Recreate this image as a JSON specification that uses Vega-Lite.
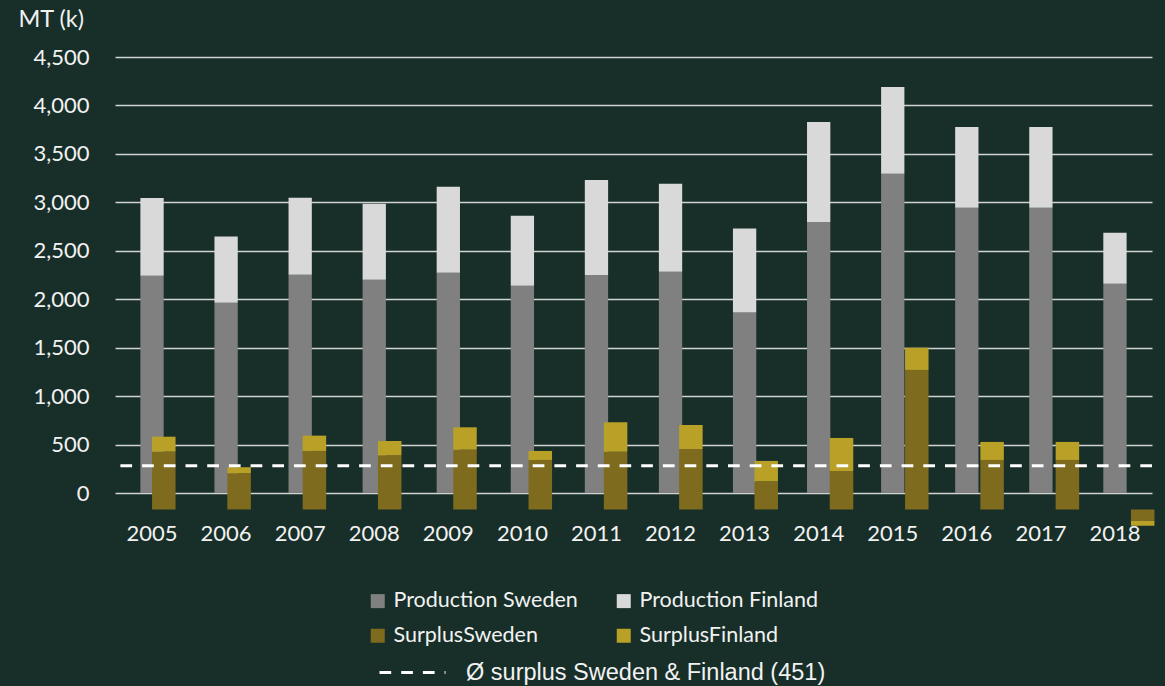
{
  "$schema": "https://vega.github.io/schema/vega-lite/v6.json",
  "width": 1037,
  "height": 436,
  "autosize": {"type": "none"},
  "padding": {"left": 115, "top": 57, "right": 13, "bottom": 193},
  "background": "#182f29",
  "config": {"view": {"stroke": null}, "font": "Lato"},
  "datasets": {
    "production": [
      {"year": "2005", "series": "Production Sweden", "value": 2243},
      {"year": "2005", "series": "Production Finland", "value": 802},
      {"year": "2006", "series": "Production Sweden", "value": 1964},
      {"year": "2006", "series": "Production Finland", "value": 684},
      {"year": "2007", "series": "Production Sweden", "value": 2253},
      {"year": "2007", "series": "Production Finland", "value": 795},
      {"year": "2008", "series": "Production Sweden", "value": 2202},
      {"year": "2008", "series": "Production Finland", "value": 784},
      {"year": "2009", "series": "Production Sweden", "value": 2274},
      {"year": "2009", "series": "Production Finland", "value": 887},
      {"year": "2010", "series": "Production Sweden", "value": 2140},
      {"year": "2010", "series": "Production Finland", "value": 722},
      {"year": "2011", "series": "Production Sweden", "value": 2250},
      {"year": "2011", "series": "Production Finland", "value": 980},
      {"year": "2012", "series": "Production Sweden", "value": 2284},
      {"year": "2012", "series": "Production Finland", "value": 908},
      {"year": "2013", "series": "Production Sweden", "value": 1864},
      {"year": "2013", "series": "Production Finland", "value": 867},
      {"year": "2014", "series": "Production Sweden", "value": 2797},
      {"year": "2014", "series": "Production Finland", "value": 1032},
      {"year": "2015", "series": "Production Sweden", "value": 3296},
      {"year": "2015", "series": "Production Finland", "value": 894},
      {"year": "2016", "series": "Production Sweden", "value": 2945},
      {"year": "2016", "series": "Production Finland", "value": 833},
      {"year": "2017", "series": "Production Sweden", "value": 2945},
      {"year": "2017", "series": "Production Finland", "value": 833},
      {"year": "2018", "series": "Production Sweden", "value": 2160},
      {"year": "2018", "series": "Production Finland", "value": 527}
    ],
    "surplus": [
      {"year": "2005", "series": "SurplusSweden", "value": 597},
      {"year": "2005", "series": "SurplusFinland", "value": 154},
      {"year": "2006", "series": "SurplusSweden", "value": 374},
      {"year": "2006", "series": "SurplusFinland", "value": 62},
      {"year": "2007", "series": "SurplusSweden", "value": 604},
      {"year": "2007", "series": "SurplusFinland", "value": 158},
      {"year": "2008", "series": "SurplusSweden", "value": 559},
      {"year": "2008", "series": "SurplusFinland", "value": 148},
      {"year": "2009", "series": "SurplusSweden", "value": 617},
      {"year": "2009", "series": "SurplusFinland", "value": 231},
      {"year": "2010", "series": "SurplusSweden", "value": 511},
      {"year": "2010", "series": "SurplusFinland", "value": 93},
      {"year": "2011", "series": "SurplusSweden", "value": 597},
      {"year": "2011", "series": "SurplusFinland", "value": 303},
      {"year": "2012", "series": "SurplusSweden", "value": 624},
      {"year": "2012", "series": "SurplusFinland", "value": 248},
      {"year": "2013", "series": "SurplusSweden", "value": 291},
      {"year": "2013", "series": "SurplusFinland", "value": 210},
      {"year": "2014", "series": "SurplusSweden", "value": 397},
      {"year": "2014", "series": "SurplusFinland", "value": 341},
      {"year": "2015", "series": "SurplusSweden", "value": 1440},
      {"year": "2015", "series": "SurplusFinland", "value": 230},
      {"year": "2016", "series": "SurplusSweden", "value": 511},
      {"year": "2016", "series": "SurplusFinland", "value": 186},
      {"year": "2017", "series": "SurplusSweden", "value": 511},
      {"year": "2017", "series": "SurplusFinland", "value": 186},
      {"year": "2018", "series": "SurplusSweden", "value": -116},
      {"year": "2018", "series": "SurplusFinland", "value": -52}
    ],
    "avg": [
      {"label": "Ø surplus Sweden & Finland (451)", "value": 451}
    ]
  },
  "layer": [
    {
      "data": {"name": "production"},
      "mark": {"type": "bar", "width": 23.3},
      "encoding": {
        "x": {
          "field": "year", "type": "ordinal",
          "scale": {"paddingInner": 0, "paddingOuter": 0},
          "axis": {"title": null, "labelAngle": 0, "domain": false, "ticks": false, "tickSize": 0, "grid": false,
                   "labelPadding": 47, "labelBaseline": "alphabetic", "labelFontSize": 22, "labelFont": "Lato", "labelColor": "#f2f2f2"}
        },
        "y": {
          "field": "value", "type": "quantitative", "stack": "zero",
          "scale": {"domain": [0, 4500], "nice": false},
          "axis": {"values": [0, 500, 1000, 1500, 2000, 2500, 3000, 3500, 4000, 4500], "format": ",d",
                   "title": "MT (k)", "titleAngle": 0, "titleAlign": "left", "titleBaseline": "alphabetic",
                   "titleX": -97, "titleY": -31, "titleFontSize": 23.5, "titleFontWeight": "normal", "titleFont": "Lato", "titleColor": "#f2f2f2",
                   "labelFontSize": 22, "labelFont": "Lato", "labelColor": "#f2f2f2", "labelPadding": 26,
                   "ticks": false, "tickSize": 0, "domain": false,
                   "grid": true, "gridColor": "#d0d3d1", "gridWidth": 1.7}
        },
        "color": {
          "field": "series", "type": "nominal",
          "scale": {"domain": ["Production Sweden", "SurplusSweden", "Production Finland", "SurplusFinland"],
                    "range": ["#808080", "#7f6b1e", "#d9d9d9", "#b9a128"]},
          "legend": {"title": null, "orient": "none", "legendX": 252, "legendY": 533, "columns": 2,
                     "symbolType": "square", "symbolSize": 196, "symbolStrokeWidth": 0,
                     "labelFontSize": 21.5, "labelFont": "Lato", "labelColor": "#f2f2f2", "labelOffset": 5,
                     "columnPadding": 35, "rowPadding": 12, "labelLimit": 400, "padding": 0}
        },
        "order": {"field": "series", "sort": "descending"}
      }
    },
    {
      "data": {"name": "surplus"},
      "mark": {"type": "bar", "width": 23.5},
      "encoding": {
        "x": {"field": "year", "type": "ordinal", "scale": {"range": [11.15, 1065.35], "paddingInner": 0, "paddingOuter": 0}, "axis": null},
        "y": {"field": "value", "type": "quantitative", "stack": "zero", "scale": {"domain": [170, 4670], "nice": false, "zero": false}, "axis": null},
        "color": {"field": "series", "type": "nominal"},
        "order": {"field": "series", "sort": "descending"}
      }
    },
    {
      "data": {"name": "avg"},
      "mark": {"type": "rule", "color": "#ffffff", "strokeWidth": 3},
      "encoding": {
        "y": {"field": "value", "type": "quantitative", "scale": {"domain": [170, 4670], "nice": false, "zero": false}, "axis": null},
        "strokeDash": {
          "field": "label", "type": "nominal",
          "scale": {"range": [[11.7, 10]]},
          "legend": {"title": null, "orient": "none", "legendX": 263, "legendY": 581,
                     "symbolType": "stroke", "symbolSize": 4356, "symbolStrokeWidth": 3, "symbolStrokeColor": "#ffffff",
                     "labelFont": "Liberation Sans", "labelFontSize": 23.5, "labelColor": "#f2f2f2", "labelOffset": 19,
                     "labelLimit": 600, "padding": 0}
        }
      }
    }
  ],
  "resolve": {"scale": {"x": "independent", "y": "independent"}, "axis": {"x": "independent", "y": "independent"}}
}
